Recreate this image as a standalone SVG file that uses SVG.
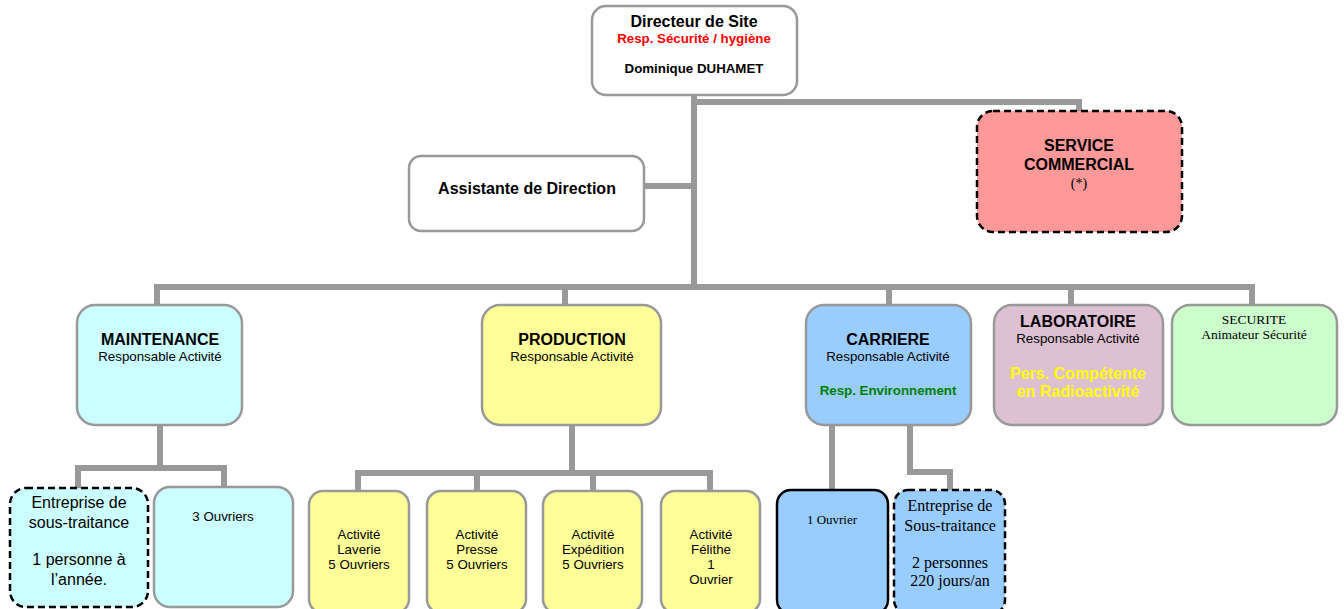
<svg xmlns="http://www.w3.org/2000/svg" width="1344" height="609" viewBox="0 0 1344 609">
<style>
.box{stroke:#999999;stroke-width:2.5}
.dash{stroke:#000;stroke-width:2.5;stroke-dasharray:7,4}
.solid{stroke:#000;stroke-width:2.5}
.conn{fill:none;stroke:#999999;stroke-width:6}
text{font-family:"Liberation Sans",Arial,sans-serif;text-anchor:middle;fill:#000}
.b{font-weight:bold}
.serif{font-family:"Liberation Serif","Times New Roman",serif}
.s{font-size:13.3px}
.m{font-size:16px}
</style>
<rect width="1344" height="609" fill="#fff"/>
<g id="connectors">
<path class="conn" d="M694,94 V289"/>
<path class="conn" d="M694,102 H1079 V111"/>
<path class="conn" d="M644,186 H694"/>
<path class="conn" d="M157,305 V287 H1252 V305"/>
<path class="conn" d="M565,287 V305"/>
<path class="conn" d="M889,287 V305"/>
<path class="conn" d="M1071,287 V305"/>
<path class="conn" d="M160,425 V468"/>
<path class="conn" d="M78,488 V468 H224 V487"/>
<path class="conn" d="M572,425 V473"/>
<path class="conn" d="M358,491 V473 H710 V491"/>
<path class="conn" d="M477,473 V491"/>
<path class="conn" d="M593,473 V491"/>
<path class="conn" d="M832,425 V490"/>
<path class="conn" d="M910,425 V472 H950 V490"/>
</g>
<g id="directeur">
<rect class="box" x="592" y="6" width="205" height="89" rx="14" fill="#fff"/>
<text class="b m" x="694" y="27">Directeur de Site</text>
<text class="b s" x="694" y="43" style="fill:#FF0000">Resp. Sécurité / hygiène</text>
<text class="b s" x="694" y="73">Dominique DUHAMET</text>
</g>
<g id="commercial">
<rect class="dash" x="977" y="111" width="205" height="121" rx="16" fill="#FF9999"/>
<text class="b m" x="1079" y="151">SERVICE</text>
<text class="b m" x="1079" y="170">COMMERCIAL</text>
<text class="serif" x="1079" y="188" font-size="14">(*)</text>
</g>
<g id="assistante">
<rect class="box" x="409" y="156" width="235" height="75" rx="12" fill="#fff"/>
<text class="b m" x="527" y="194">Assistante de Direction</text>
</g>
<g id="maintenance">
<rect class="box" x="77" y="305" width="165" height="120" rx="18" fill="#CCFFFF"/>
<text class="b m" x="160" y="345">MAINTENANCE</text>
<text class="s" x="160" y="361">Responsable Activité</text>
</g>
<g id="production">
<rect class="box" x="482" y="305" width="179" height="120" rx="18" fill="#FFFF99"/>
<text class="b m" x="572" y="345">PRODUCTION</text>
<text class="s" x="572" y="361">Responsable Activité</text>
</g>
<g id="carriere">
<rect class="box" x="806" y="305" width="165" height="120" rx="18" fill="#99CCFF"/>
<text class="b m" x="888" y="345">CARRIERE</text>
<text class="s" x="888" y="361">Responsable Activité</text>
<text class="b s" x="888" y="395" style="fill:#008000">Resp. Environnement</text>
</g>
<g id="laboratoire">
<rect class="box" x="994" y="305" width="169" height="120" rx="18" fill="#DDC1D3"/>
<text class="b m" x="1078" y="327">LABORATOIRE</text>
<text class="s" x="1078" y="343">Responsable Activité</text>
<text class="b m" x="1078" y="379" style="fill:#FFFF00">Pers. Compétente</text>
<text class="b m" x="1078" y="397" style="fill:#FFFF00">en Radioactivité</text>
</g>
<g id="securite">
<rect class="box" x="1172" y="305" width="165" height="120" rx="18" fill="#CCFFCC"/>
<text class="serif" x="1254" y="324" font-size="13.5">SECURITE</text>
<text class="serif" x="1254" y="339" font-size="13.5">Animateur Sécurité</text>
</g>
<g id="maint-soustraitance">
<rect class="dash" x="10" y="488" width="138" height="119" rx="16" fill="#CCFFFF"/>
<text class="m" x="79" y="508">Entreprise de</text>
<text class="m" x="79" y="528">sous-traitance</text>
<text class="m" x="79" y="565">1 personne à</text>
<text class="m" x="79" y="585">l’année.</text>
</g>
<g id="maint-ouvriers">
<rect class="box" x="154" y="487" width="139" height="120" rx="16" fill="#CCFFFF"/>
<text class="s" x="223" y="521">3 Ouvriers</text>
</g>
<g id="laverie">
<rect class="box" x="309" y="491" width="100" height="122" rx="14" fill="#FFFF99"/>
<text class="s" x="359" y="539">Activité</text>
<text class="s" x="359" y="554">Laverie</text>
<text class="s" x="359" y="569">5 Ouvriers</text>
</g>
<g id="presse">
<rect class="box" x="427" y="491" width="99" height="122" rx="14" fill="#FFFF99"/>
<text class="s" x="477" y="539">Activité</text>
<text class="s" x="477" y="554">Presse</text>
<text class="s" x="477" y="569">5 Ouvriers</text>
</g>
<g id="expedition">
<rect class="box" x="543" y="491" width="99" height="122" rx="14" fill="#FFFF99"/>
<text class="s" x="593" y="539">Activité</text>
<text class="s" x="593" y="554">Expédition</text>
<text class="s" x="593" y="569">5 Ouvriers</text>
</g>
<g id="felithe">
<rect class="box" x="661" y="491" width="99" height="122" rx="14" fill="#FFFF99"/>
<text class="s" x="711" y="539">Activité</text>
<text class="s" x="711" y="554">Félithe</text>
<text class="s" x="711" y="569">1</text>
<text class="s" x="711" y="584">Ouvrier</text>
</g>
<g id="carriere-ouvrier">
<rect class="solid" x="777" y="490" width="111" height="124" rx="14" fill="#99CCFF"/>
<text class="serif" x="832" y="524" font-size="13">1 Ouvrier</text>
</g>
<g id="carriere-soustraitance">
<rect class="dash" x="894" y="490" width="111" height="124" rx="14" fill="#99CCFF"/>
<text class="serif m" x="950" y="511">Entreprise de</text>
<text class="serif m" x="950" y="531">Sous-traitance</text>
<text class="serif m" x="950" y="568">2 personnes</text>
<text class="serif m" x="950" y="586">220 jours/an</text>
</g>
</svg>
